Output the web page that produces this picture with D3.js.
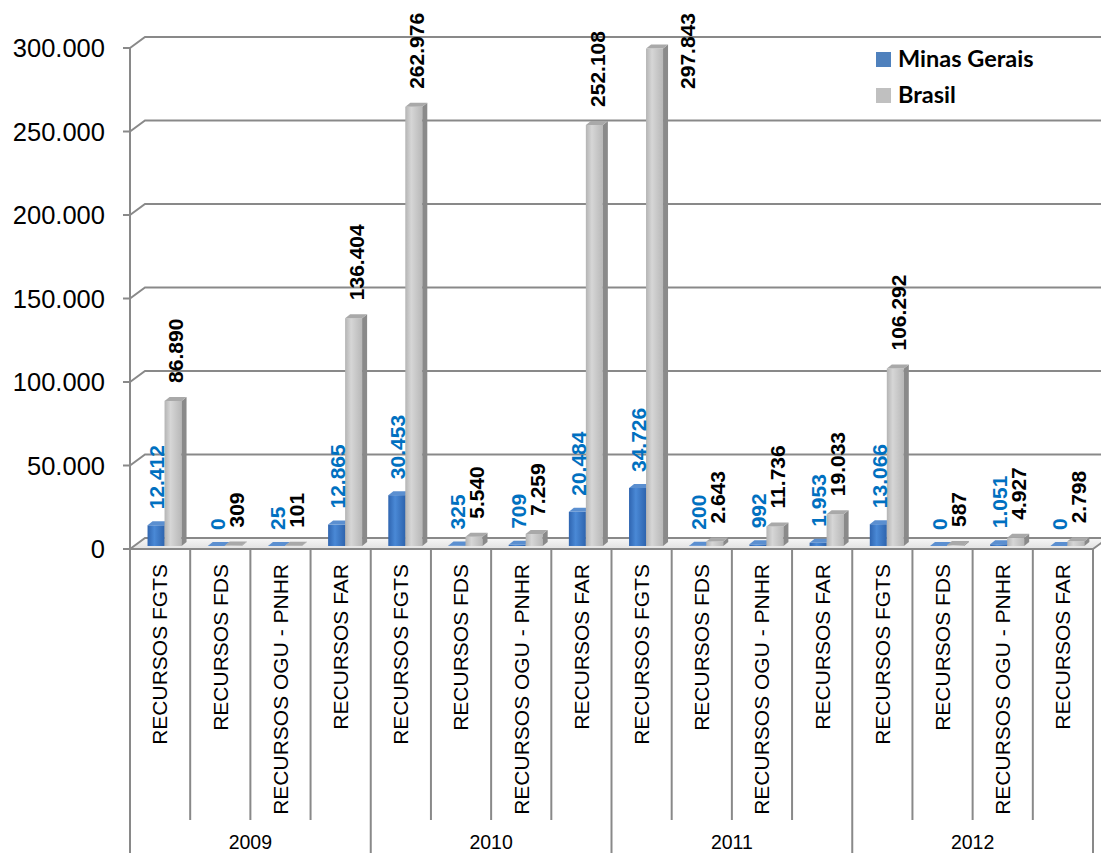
<!DOCTYPE html>
<html>
<head>
<meta charset="utf-8">
<script src="https://cdn.jsdelivr.net/npm/d3@7"></script>
<style>
  html, body { margin: 0; padding: 0; background: #fff; }
  svg { display: block; }
  .sans { font-family: "Liberation Sans", Arial, Helvetica, sans-serif; }
  .legend-text { font-family: Lato, "Open Sans", sans-serif; }
</style>
</head>
<body>
<svg id="chart" width="1101" height="853"></svg>
<script>
// Unidades habitacionais contratadas por fonte de recursos, 2009–2012
const years = ["2009", "2010", "2011", "2012"];
const sources = ["RECURSOS FGTS", "RECURSOS FDS", "RECURSOS OGU - PNHR", "RECURSOS FAR"];
const seriesNames = ["Minas Gerais", "Brasil"];
const minasGerais = [12412, 0, 25, 12865, 30453, 325, 709, 20484, 34726, 200, 992, 1953, 13066, 0, 1051, 0];
const brasil = [86890, 309, 101, 136404, 262976, 5540, 7259, 252108, 297843, 2643, 11736, 19033, 106292, 587, 4927, 2798];
const yTicks = [0, 50000, 100000, 150000, 200000, 250000, 300000];

// category list: each year holds the four sources
const categories = [];
years.forEach(y => sources.forEach(s => categories.push({ year: y, source: s })));

const ptBR = d3.formatLocale({ decimal: ",", thousands: ".", grouping: [3], currency: ["R$", ""] });
const fmt = ptBR.format(",d");

const svg = d3.select("#chart");
const defs = svg.append("defs");

// geometry of the 3D box
const left = 130, right = 1093, floorY = 549, topY = 48;
const wall = { dx: 15, dy: -11 };      // back wall offset
const barShift = { dx: 4, dy: -3 };    // bar front face sits slightly behind the front edge
const barDepth = { dx: 5, dy: -4 };    // bar thickness
const axisColor = "#898989";

const x = d3.scaleBand().domain(d3.range(categories.length)).range([left, right]);
const inner = d3.scaleBand().domain(seriesNames)
  .range([x.bandwidth() * 0.225, x.bandwidth() * 0.79]);
const y = d3.scaleLinear().domain([0, 300000]).range([floorY, topY]);

// gradients for bar faces
function hGrad(id, stops) {
  const g = defs.append("linearGradient").attr("id", id)
    .attr("x1", "0%").attr("x2", "100%").attr("y1", "0%").attr("y2", "0%");
  stops.forEach(([o, c]) => g.append("stop").attr("offset", o).attr("stop-color", c));
}
hGrad("blueFront", [["0%", "#2f65b0"], ["40%", "#4a89d6"], ["100%", "#2e64ae"]]);
hGrad("grayFront", [["0%", "#b4b4b4"], ["35%", "#d6d6d6"], ["100%", "#b8b8b8"]]);
const floorGrad = defs.append("linearGradient").attr("id", "floorGrad")
  .attr("x1", "0").attr("x2", "0").attr("y1", "0").attr("y2", "1");
floorGrad.append("stop").attr("offset", "0%").attr("stop-color", "#f7f7f7");
floorGrad.append("stop").attr("offset", "100%").attr("stop-color", "#e2e2e2");

const colors = {
  "Minas Gerais": { front: "url(#blueFront)", side: "#24528f", top: "#5b8fd0", legend: "#4f81bd", label: "#0070c0" },
  "Brasil": { front: "url(#grayFront)", side: "#8a8a8a", top: "#a9a9a9", legend: "#c0c0c0", label: "#000000" }
};

// floor
svg.append("polygon")
  .attr("points", [[left, floorY], [right, floorY], [right + wall.dx, floorY + wall.dy], [left + wall.dx, floorY + wall.dy]].join(" "))
  .attr("fill", "url(#floorGrad)");

// gridlines on the left wall and the back wall
const grid = svg.append("g").attr("fill", "none").attr("stroke", axisColor).attr("stroke-width", 2);
yTicks.forEach(v => {
  const yy = y(v);
  grid.append("polyline")
    .attr("points", [[left, yy], [left + wall.dx, yy + wall.dy], [right + wall.dx, yy + wall.dy]].join(" "));
});
// floor right edge
grid.append("line").attr("x1", right).attr("y1", floorY).attr("x2", right + wall.dx).attr("y2", floorY + wall.dy);

// value axis
const yAxis = svg.append("g");
yAxis.append("line").attr("x1", left).attr("x2", left).attr("y1", topY).attr("y2", 853)
  .attr("stroke", axisColor).attr("stroke-width", 2);
yTicks.forEach(v => {
  yAxis.append("line").attr("x1", left - 7).attr("x2", left).attr("y1", y(v)).attr("y2", y(v))
    .attr("stroke", axisColor).attr("stroke-width", 2);
  yAxis.append("text").attr("class", "sans").attr("x", 105).attr("y", y(v) + 9.2)
    .attr("text-anchor", "end")
    .attr("font-size", 25.5).attr("fill", "#000")
    .text(fmt(v));
});

// category axis
const xAxis = svg.append("g");
xAxis.append("line").attr("x1", left).attr("x2", right).attr("y1", floorY).attr("y2", floorY)
  .attr("stroke", axisColor).attr("stroke-width", 2);
d3.range(categories.length + 1).forEach(i => {
  const xx = i < categories.length ? x(i) : right;
  const full = i % sources.length === 0;
  xAxis.append("line").attr("x1", xx).attr("x2", xx)
    .attr("y1", floorY).attr("y2", full ? 853 : 820)
    .attr("stroke", axisColor).attr("stroke-width", 2);
});
categories.forEach((c, i) => {
  const cx = x(i) + x.bandwidth() / 2;
  xAxis.append("text").attr("class", "sans")
    .attr("transform", `translate(${cx},564) rotate(-90)`)
    .attr("dy", "0.35em")
    .attr("text-anchor", "end")
    .attr("font-size", 21).attr("fill", "#000")
    .text(c.source);
});
years.forEach((yr, j) => {
  const x0 = x(j * sources.length);
  const x1 = j === years.length - 1 ? right : x((j + 1) * sources.length);
  xAxis.append("text").attr("class", "sans")
    .attr("x", (x0 + x1) / 2).attr("y", 849)
    .attr("text-anchor", "middle")
    .attr("font-size", 19.5).attr("fill", "#000")
    .text(yr);
});

// 3D columns
const data = seriesNames.map((name, k) => ({ name, values: k === 0 ? minasGerais : brasil }));
const bars = svg.append("g");
const labels = svg.append("g").attr("class", "sans")
  .attr("font-size", 21).attr("font-weight", "bold");

categories.forEach((c, i) => {
  data.forEach(s => {
    const v = s.values[i];
    const col = colors[s.name];
    const w = inner.bandwidth();
    const bx = x(i) + inner(s.name) + barShift.dx;
    const base = y(0) + barShift.dy;
    const top = y(v) + barShift.dy;
    const g = bars.append("g");
    g.append("rect").attr("x", bx).attr("y", top).attr("width", w).attr("height", base - top)
      .attr("fill", col.front);
    g.append("polygon")
      .attr("points", [[bx + w, base], [bx + w + barDepth.dx, base + barDepth.dy],
                       [bx + w + barDepth.dx, top + barDepth.dy], [bx + w, top]].join(" "))
      .attr("fill", col.side);
    g.append("polygon")
      .attr("points", [[bx, top], [bx + barDepth.dx, top + barDepth.dy],
                       [bx + w + barDepth.dx, top + barDepth.dy], [bx + w, top]].join(" "))
      .attr("fill", col.top);

    // value label, rotated, above the column
    const gap = s.name === "Brasil" ? 18 : 16;
    const cx = bx + w / 2 + (s.name === "Brasil" ? 3 : 1);
    const t = labels.append("text")
      .attr("fill", col.label)
      .attr("dy", "0.35em")
      .text(fmt(v));
    const len = t.node().getComputedTextLength();
    if (top - gap - len < 0) {
      // not enough room above: place beside the column, against the top of the plot
      t.attr("text-anchor", "end")
        .attr("transform", `translate(${bx + w + barDepth.dx + 20},13) rotate(-90)`);
    } else {
      t.attr("text-anchor", "start")
        .attr("transform", `translate(${cx},${top - gap}) rotate(-90)`);
    }
  });
});

// legend
const legend = svg.append("g");
seriesNames.forEach((name, k) => {
  const ly = 52 + k * 36;
  legend.append("rect").attr("x", 876).attr("y", ly).attr("width", 15).attr("height", 15)
    .attr("fill", colors[name].legend);
  legend.append("text").attr("class", "legend-text").attr("x", 898).attr("y", ly + 15)
    .attr("font-weight", "bold").attr("font-size", 23.5).attr("fill", "#000")
    .text(name);
});
</script>
</body>
</html>
